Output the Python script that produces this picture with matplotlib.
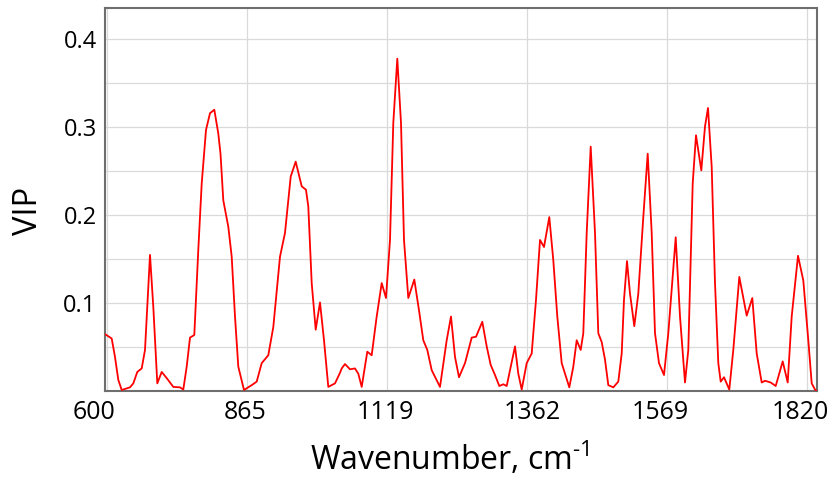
import matplotlib
matplotlib.use("Agg")
import matplotlib.pyplot as plt
import matplotlib.transforms as mtransforms

# Variable index (spectral channel position) and VIP values
idx = [-1.7, 5.0, 8.3, 11.6, 15.0, 23.3, 26.6, 30.6, 35.0, 38.3, 43.3, 46.6, 50.6,
       55.0, 60.0, 66.6, 73.3, 76.6, 80.0, 83.3, 87.6, 91.6, 95.0, 99.3, 103.3,
       107.6, 111.6, 113.8, 116.6, 121.6, 125.0, 128.3, 131.6, 137.3, 145.0, 150.0,
       155.0, 161.6, 166.6, 173.3, 178.3, 184.0, 189.0, 195.0, 199.3, 201.6, 205.0,
       209.0, 213.3, 217.3, 221.6, 228.3, 233.3, 235.0, 238.3, 243.3, 248.3, 251.6,
       255.0, 260.6, 265.0, 270.0, 275.0, 279.3, 283.3, 286.6, 290.6, 294.3, 297.3,
       301.6, 307.6, 312.3, 316.6, 320.6, 325.0, 333.3, 340.0, 344.3, 348.3, 352.3,
       358.3, 365.0, 369.3, 375.6, 380.0, 384.0, 388.3, 392.6, 396.6, 400.0, 408.3,
       411.6, 415.0, 420.0, 425.0, 429.3, 433.3, 437.3, 442.6, 446.6, 450.6, 455.0,
       462.6, 466.6, 470.0, 474.0, 476.6, 480.0, 484.0, 488.3, 491.6, 495.0, 498.3,
       501.6, 506.6, 511.6, 515.0, 517.3, 520.3, 523.3, 527.6, 531.6, 536.6, 541.0,
       545.0, 548.3, 552.3, 557.3, 561.6, 569.0, 573.3, 578.3, 581.6, 586.0, 589.3,
       594.6, 598.3, 601.3, 605.0, 608.3, 611.6, 614.0, 617.3, 622.6, 626.6, 632.6,
       640.0, 645.6, 650.0, 655.0, 658.3, 664.0, 669.0, 676.0, 681.0, 685.0, 691.3,
       696.6, 701.6, 705.0, 708.3, 710.0]
vip = [0.065, 0.060, 0.039, 0.013, 0.0015, 0.0045, 0.009, 0.022, 0.026, 0.047, 0.155,
       0.096, 0.009, 0.022, 0.015, 0.005, 0.0045, 0.002, 0.028, 0.061, 0.064, 0.161,
       0.236, 0.297, 0.316, 0.320, 0.293, 0.270, 0.217, 0.187, 0.153, 0.085, 0.028,
       0.0015, 0.007, 0.011, 0.032, 0.041, 0.073, 0.153, 0.180, 0.244, 0.261, 0.233,
       0.229, 0.210, 0.123, 0.070, 0.101, 0.058, 0.005, 0.009, 0.021, 0.026, 0.031,
       0.025, 0.026, 0.020, 0.005, 0.045, 0.041, 0.085, 0.123, 0.106, 0.172, 0.305,
       0.378, 0.305, 0.172, 0.106, 0.127, 0.092, 0.058, 0.047, 0.024, 0.005, 0.058,
       0.085, 0.039, 0.016, 0.032, 0.061, 0.062, 0.079, 0.051, 0.030, 0.0185, 0.006,
       0.008, 0.006, 0.051, 0.020, 0.002, 0.032, 0.043, 0.104, 0.172, 0.164, 0.198,
       0.149, 0.085, 0.032, 0.0045, 0.028, 0.058, 0.047, 0.066, 0.180, 0.278, 0.180,
       0.066, 0.056, 0.036, 0.007, 0.0045, 0.011, 0.043, 0.104, 0.148, 0.111, 0.074,
       0.111, 0.198, 0.270, 0.180, 0.066, 0.032, 0.0185, 0.066, 0.175, 0.085, 0.010,
       0.047, 0.236, 0.291, 0.251, 0.301, 0.322, 0.255, 0.123, 0.032, 0.011, 0.016,
       0.002, 0.047, 0.130, 0.086, 0.106, 0.043, 0.010, 0.012, 0.010, 0.006, 0.034,
       0.010, 0.085, 0.154, 0.126, 0.058, 0.009, 0.002, 0.0]

tick_pos = [0, 140, 280, 420, 560, 700]
tick_labels = ["600", "865", "1119", "1362", "1569", "1820"]
ytick_vals = [0.1, 0.2, 0.3, 0.4]
ytick_labels = ["0.1", "0.2", "0.3", "0.4"]
ygrid_vals = [0.05, 0.1, 0.15, 0.2, 0.25, 0.3, 0.35, 0.4]

plt.rcParams['font.family'] = ['Open Sans', 'DejaVu Sans']
plt.rcParams['mathtext.fontset'] = 'custom'
plt.rcParams['mathtext.rm'] = 'Open Sans'

fig = plt.figure(figsize=(8.32, 4.79), dpi=100)
ax = fig.add_axes([105 / 832, (479 - 391.3) / 479, 711.7 / 832, 383.3 / 479])

# grid
for yv in ygrid_vals:
    ax.axhline(yv, color='#dadada', lw=0.9, zorder=0)
for xv in tick_pos:
    ax.axvline(xv, color='#dadada', lw=0.9, zorder=0)

ax.plot(idx, vip, color='#ff0000', lw=1.3, zorder=3, solid_joinstyle='round')

ax.set_xlim(-1.7, 710.0)
ax.set_ylim(0, 0.4356)

ax.set_xticks(tick_pos)
ax.set_xticklabels(tick_labels, fontsize=18)
ax.set_yticks(ytick_vals)
ax.set_yticklabels(ytick_labels, fontsize=17)
ax.tick_params(axis='both', length=0, colors='black')
ax.tick_params(axis='x', pad=6)
ax.tick_params(axis='y', pad=6)

offsets = [-12.7, -1.7, -1.7, 5.3, -6.7, -6.7]
for lab, dx in zip(ax.get_xticklabels(), offsets):
    lab.set_transform(lab.get_transform() + mtransforms.ScaledTranslation(dx / 100, 0, fig.dpi_scale_trans))

for s in ax.spines.values():
    s.set_color('#6e6e6e')
    s.set_linewidth(1.5)

ax.set_xlabel('Wavenumber, cm$^{\\text{-1}}$', fontsize=23, va='baseline')
ax.xaxis.set_label_coords(0.4848, -0.2055)
ax.set_ylabel('VIP', fontsize=23.5, va='baseline')
ax.yaxis.set_label_coords(-0.096, 0.4696)

fig.savefig('out.png', dpi=100)
